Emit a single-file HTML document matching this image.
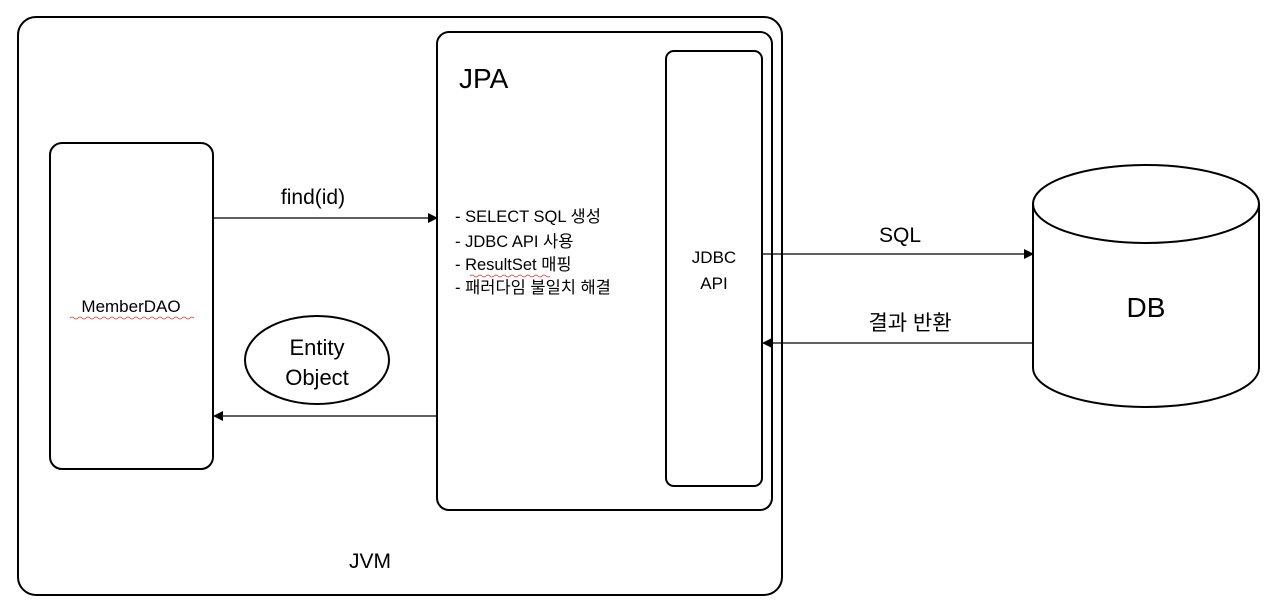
<!DOCTYPE html>
<html><head><meta charset="utf-8"><style>
html,body{margin:0;padding:0;background:#fff;width:1280px;height:616px;overflow:hidden}
svg text{font-family:"Liberation Sans","Noto Sans CJK KR",sans-serif;fill:#000}
</style></head><body>
<svg width="1280" height="616" viewBox="0 0 1280 616" xmlns="http://www.w3.org/2000/svg">
<defs><marker id="a" markerWidth="10" markerHeight="10" refX="9" refY="5" orient="auto" markerUnits="userSpaceOnUse"><path d="M0,0 L10,5 L0,10 z" fill="#000"/></marker></defs>
<g fill="none" stroke="#000" stroke-width="2">
<rect x="18" y="17" width="764" height="578" rx="18"/>
<rect x="437" y="32" width="335" height="478" rx="12"/>
<rect x="666" y="51" width="96" height="435" rx="8"/>
<rect x="50" y="143" width="163" height="326" rx="12"/>
<ellipse cx="317" cy="360" rx="72" ry="44"/>
<path d="M1033,204 L1033,368 A113,39 0 0 0 1259,368 L1259,204"/>
<ellipse cx="1146" cy="204" rx="113" ry="39"/>
</g>
<g stroke="#000" stroke-width="1.3">
<line x1="213" y1="218" x2="437" y2="218" marker-end="url(#a)"/>
<line x1="437" y1="416" x2="214" y2="416" marker-end="url(#a)"/>
<line x1="762" y1="254" x2="1033" y2="254" marker-end="url(#a)"/>
<line x1="1033" y1="343" x2="763" y2="343" marker-end="url(#a)"/>
</g>
<text x="459" y="88" font-size="28">JPA</text>
<text x="313" y="204" font-size="21" text-anchor="middle">find(id)</text>
<text x="131" y="312" font-size="17" text-anchor="middle">MemberDAO</text>
<path d="M70,318 q2,-2 4,0 t4,0 t4,0 t4,0 t4,0 t4,0 t4,0 t4,0 t4,0 t4,0 t4,0 t4,0 t4,0 t4,0 t4,0 t4,0 t4,0 t4,0 t4,0 t4,0 t4,0 t4,0 t4,0 t4,0 t4,0 t4,0 t4,0 t4,0 t4,0 t4,0 t4,0" stroke="#e03030" fill="none" stroke-width="0.8"/>
<text x="317" y="355" font-size="22" text-anchor="middle">Entity</text>
<text x="317" y="385" font-size="22" text-anchor="middle">Object</text>
<g font-size="16.5">
<text x="455" y="222">- SELECT SQL 생성</text>
<text x="455" y="247">- JDBC API 사용</text>
<text x="455" y="270">- ResultSet 매핑</text>
<text x="455" y="293">- 패러다임 불일치 해결</text>
</g>
<path d="M470,276 q2,-2 4,0 t4,0 t4,0 t4,0 t4,0 t4,0 t4,0 t4,0 t4,0 t4,0 t4,0 t4,0 t4,0 t4,0 t4,0 t4,0 t4,0 t4,0 t4,0 t4,0" stroke="#e03030" fill="none" stroke-width="0.8"/>
<text x="714" y="263" font-size="17" text-anchor="middle">JDBC</text>
<text x="714" y="289" font-size="17" text-anchor="middle">API</text>
<text x="900" y="242" font-size="21" text-anchor="middle">SQL</text>
<text x="910" y="330" font-size="21" text-anchor="middle">결과 반환</text>
<text x="1146" y="317" font-size="28" text-anchor="middle">DB</text>
<text x="370" y="568" font-size="21" text-anchor="middle">JVM</text>
</svg>
</body></html>
